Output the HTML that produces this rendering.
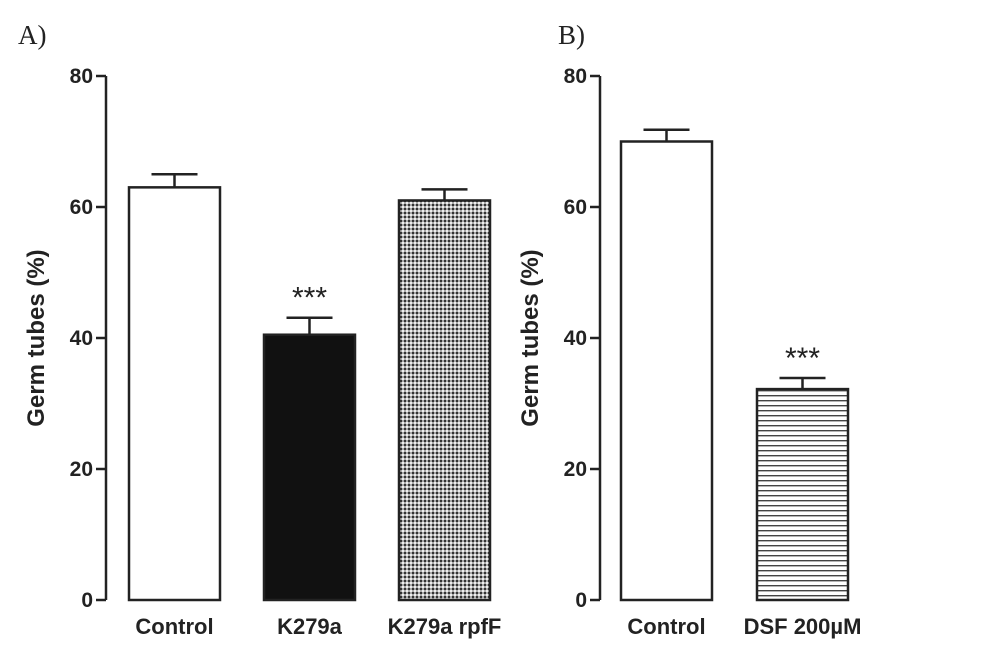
<!DOCTYPE html>
<html><head><meta charset="utf-8"><style>
body{margin:0;background:#fff}
svg{display:block}
text{font-family:"Liberation Sans",sans-serif;fill:#222}
</style></head><body>
<svg id="chart" width="998" height="655" viewBox="0 0 998 655">
<defs>
<pattern id="dots" width="4" height="4" patternUnits="userSpaceOnUse"><rect width="4" height="4" fill="#aaa"/><rect width="2" height="2" fill="#333"/><rect x="2" y="2" width="2" height="2" fill="#eee"/></pattern>
<pattern id="hlines" width="4" height="5" patternUnits="userSpaceOnUse"><rect width="4" height="5" fill="#fff"/><rect width="4" height="1.4" fill="#444"/></pattern>
</defs>
<text x="18" y="44" style="font-family:'Liberation Serif',serif;font-size:27px">A)</text>
<text x="558" y="44" style="font-family:'Liberation Serif',serif;font-size:27px">B)</text>
<g id="pa"></g><g id="pb"></g>
</svg>
<script>
const ticks=[0,20,40,60,80];
const catsA=["Control","K279a","K279a rpfF"];
const valsA=[63,40.5,61];
const errA=[2,2.6,1.7];
const sigA=["","***",""];
const catsB=["Control","DSF 200µM"];
const valsB=[70,32.2];
const errB=[1.8,1.7];
const sigB=["","***"];
const NS="http://www.w3.org/2000/svg";
function mk(p,t,a){const e=document.createElementNS(NS,t);for(const k in a)e.setAttribute(k,a[k]);p.appendChild(e);return e;}
const y=v=>600-v*6.55;
function panel(g,ax,cats,vals,errs,sigs,fills,x0,step,bw){
  const ya=mk(g,'line',{x1:ax,y1:y(80),x2:ax,y2:y(0),stroke:'#222','stroke-width':2.5});
  
  
  ticks.forEach(t=>{
    const l=mk(g,'line',{x1:ax-10,y1:y(t),x2:ax,y2:y(t),stroke:'#222','stroke-width':2.5});
    
    
    const tx=mk(g,'text',{x:ax-13,y:y(t)+7,'text-anchor':'end','font-size':21,'font-weight':'bold'});
    tx.textContent=t;
    
    
  });
  const tt=mk(g,'text',{x:0,y:0,'text-anchor':'middle','font-size':24,'font-weight':'bold',transform:`translate(${ax-62},${y(40)}) rotate(-90)`});
  tt.textContent='Germ tubes (%)';
  
  
  cats.forEach((c,i)=>{
    const bx=x0+i*step, cx=bx+bw/2;
    const r=mk(g,'rect',{x:bx,y:y(vals[i]),width:bw,height:y(0)-y(vals[i]),fill:fills[i],stroke:'#222','stroke-width':2.5});
    
    
    const e=mk(g,'path',{d:`M${cx} ${y(vals[i])} V${y(vals[i]+errs[i])} M${cx-23} ${y(vals[i]+errs[i])} H${cx+23}`,stroke:'#222','stroke-width':2.5,fill:'none'});
    
    
    if(sigs[i]){const s=mk(g,'text',{x:cx,y:y(vals[i]+errs[i])-10,'text-anchor':'middle','font-size':30,fill:'#333'});s.textContent=sigs[i];
      
      }
    const l=mk(g,'text',{x:cx,y:634,'text-anchor':'middle','font-size':22,'font-weight':'bold'});
    l.textContent=c;
    
    
  });
}
panel(document.getElementById('pa'),106,catsA,valsA,errA,sigA,['#fff','#111','url(#dots)'],129,135,91);
panel(document.getElementById('pb'),600,catsB,valsB,errB,sigB,['#fff','url(#hlines)'],621,136,91);
</script>
</body></html>
